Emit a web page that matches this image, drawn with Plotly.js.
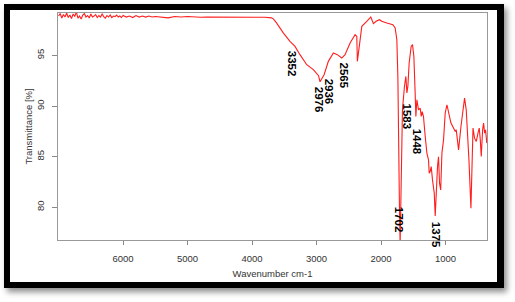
<!DOCTYPE html>
<html>
<head>
<meta charset="utf-8">
<script src="https://cdn.plot.ly/plotly-3.0.1.min.js"></script>
<style>
html,body{margin:0;padding:0;background:#fff;width:515px;height:302px;overflow:hidden;}
#chart{position:absolute;left:0;top:0;width:515px;height:302px;}
#frame{position:absolute;left:4px;top:4px;width:487px;height:272px;border-style:solid;border-color:#000;border-width:6px 7px 6px 6px;box-shadow:3px 4px 6px rgba(0,0,0,0.45);pointer-events:none;}
</style>
</head>
<body>
<div id="chart"></div>
<div id="frame"></div>
<script>
const wavenumber = [
 7000,6975,6950,6925,6900,6875,6850,6825,6800,6775,6750,6725,6700,6675,6650,6625,6600,6575,6550,6525,6500,6475,6450,6425,6400,6375,6350,6325,6300,6275,6250,6225,6200,6175,6150,6125,6100,6075,6050,6025,6000,
 5950,5900,5850,5800,5750,5700,5650,5600,5550,5500,
 5400,5300,5200,5100,5000,4900,4800,4700,4600,4500,4400,4300,4200,4100,4000,3900,3800,3700,
 3670,3618,3516,3412,3334,3257,3152,3050,2997,2969,2946,2915,2883,2817,2739,2677,2609,2558,2480,2402,2376,2367,2336,2298,2221,2159,2118,2076,2025,1988,1910,1817,1781,1755,1739,1730,1714,1704,1688,1668,1637,1615,1599,1584,1564,1533,1512,1491,1471,1460,1444,1419,1393,1377,1362,1342,1315,1289,1264,1253,1238,1222,1202,1175,1160,1144,1124,1109,1093,1075,1056,1031,1005,978,953,916,876,849,834,798,761,730,705,679,658,637,606,590,574,550,523,497,477,461,446,425,410,394,379,360
];
const transmittance = [
 98.9,99.15,98.7,99.05,98.8,99.2,98.75,99.0,98.65,99.1,98.85,99.3,98.7,98.9,98.6,99.0,99.15,98.8,98.95,98.7,99.1,98.8,98.9,99.05,98.75,98.95,98.8,99.1,98.85,98.7,98.95,98.8,99.0,98.75,98.9,98.85,99.0,98.8,98.9,98.75,98.95,
 98.8,98.9,98.75,98.95,98.8,98.9,98.8,98.9,98.8,98.85,
 98.8,98.72,98.85,98.8,98.85,98.8,98.78,98.8,98.8,98.78,98.8,98.8,98.8,98.8,98.8,98.8,98.78,98.72,
 98.62,98.2,97.23,96.4,95.9,95.08,94.09,93.6,93.27,93.0,92.4,92.8,93.1,94.42,95.25,95.08,94.75,95.08,96.24,97.06,96.89,94.42,96.24,97.88,98.38,98.81,98.15,98.38,98.54,98.38,98.22,98.05,97.72,96.56,92.93,86.37,79.73,76.3,83.03,89.63,91.94,92.93,91.29,91.94,94.26,95.9,96.07,94.91,91.29,88.97,90.62,89.63,89.8,88.97,89.44,88.97,86.99,85.35,84.68,83.37,83.52,84.02,82.7,81.39,79.14,81.71,84.02,84.98,82.38,81.71,85.35,86.66,89.31,90.13,89.31,88.32,87.82,87.49,87.65,85.67,87.98,89.63,90.79,89.63,87.33,84.68,79.9,83.37,87.82,86.83,86.5,87.33,87.82,86.66,85.01,87.65,88.32,87.33,87.65,86.34
];
const xTicks = [6000,5000,4000,3000,2000,1000];
const yTicks = [80,85,90,95];
const peakLabels = ["3352","2976","2936","2565","1583","1448","1702","1375"];
const labelX = [3381,2961,2806,2573,1595,1440,1719,1144];
const labelY = [95.67,92.1,92.9,94.49,90.43,87.95,80.23,78.74];

const annotations = peakLabels.map((t,i)=>({
  x: labelX[i], y: labelY[i], xref:'x', yref:'y', text: t, showarrow:false,
  textangle: 90, xanchor:'center', yanchor:'top',
  font:{family:'Liberation Sans, Arial, sans-serif', size:11.5, color:'#000', weight:'bold'}
}));

const trace = {
  x: wavenumber, y: transmittance, type:'scatter', mode:'lines',
  line:{color:'rgb(255,30,30)', width:1.1}, hoverinfo:'none'
};

const axisFont = {family:'Liberation Sans, Arial, sans-serif', size:9.5, color:'#333'};
const layout = {
  width:515, height:302,
  margin:{l:58, r:28, t:13, b:62, pad:0},
  paper_bgcolor:'rgba(0,0,0,0)', plot_bgcolor:'#fff',
  showlegend:false,
  xaxis:{
    range:[7009,357], tickvals:xTicks, ticktext:xTicks.map(String),
    ticks:'outside', ticklen:4, tickcolor:'#888', tickwidth:1,
    showline:true, linecolor:'#999', linewidth:1, mirror:true,
    showgrid:false, zeroline:false, tickfont:axisFont, ticklabelstandoff:6,
    title:{text:'Wavenumber cm-1', font:axisFont, standoff:6}
  },
  yaxis:{
    range:[76.76,99.2], tickvals:yTicks, ticktext:yTicks.map(String),
    ticks:'outside', ticklen:5, tickcolor:'#888', tickwidth:1, tickangle:-90,
    showline:true, linecolor:'#999', linewidth:1, mirror:true,
    showgrid:false, zeroline:false, tickfont:axisFont, ticklabelstandoff:4,
    title:{text:'Transmittance [%]', font:axisFont, standoff:0}
  },
  annotations: annotations
};
Plotly.newPlot('chart',[trace],layout,{staticPlot:true, displayModeBar:false});
</script>
</body>
</html>
